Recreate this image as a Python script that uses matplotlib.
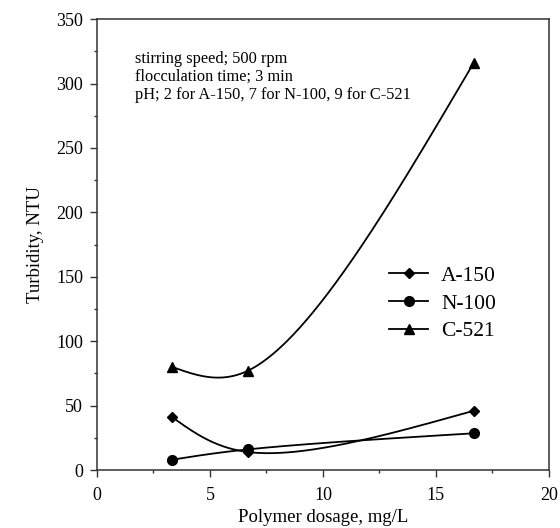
import numpy as np
import matplotlib
matplotlib.use("Agg")
import matplotlib.pyplot as plt
from matplotlib.ticker import MultipleLocator

plt.rcParams["font.family"] = ["Liberation Serif", "DejaVu Serif"]

dosage = [3.33, 6.67, 16.67]
a150 = [41, 14, 46]
n100 = [8, 16, 28.5]
c521 = [80, 77, 316]
labels = ["A-150", "N-100", "C-521"]
note = "stirring speed; 500 rpm\nflocculation time; 3 min\npH; 2 for A-150, 7 for N-100, 9 for C-521"

XLIM = (0, 20)
YLIM = (0, 350)


def natural_coef(t, v):
    k = len(t)
    h = np.diff(t)
    A = np.zeros((k, k))
    b = np.zeros(k)
    A[0, 0] = A[-1, -1] = 1.0
    for i in range(1, k - 1):
        A[i, i - 1] = h[i - 1]
        A[i, i] = 2 * (h[i - 1] + h[i])
        A[i, i + 1] = h[i]
        b[i] = 6 * ((v[i + 1] - v[i]) / h[i] - (v[i] - v[i - 1]) / h[i - 1])
    return np.linalg.solve(A, b)


def natural_eval(t, v, ts):
    M = natural_coef(t, v)
    idx = np.clip(np.searchsorted(t, ts) - 1, 0, len(t) - 2)
    t0, t1 = t[idx], t[idx + 1]
    hh = t1 - t0
    return (M[idx] * (t1 - ts) ** 3 + M[idx + 1] * (ts - t0) ** 3) / (6 * hh) \
        + (v[idx] / hh - M[idx] * hh / 6) * (t1 - ts) \
        + (v[idx + 1] / hh - M[idx + 1] * hh / 6) * (ts - t0)


def smooth(ax, x, y, n=300):
    # parametric (centripetal) spline worked out in screen units, like the old plotting package
    sx = ax.bbox.width / (XLIM[1] - XLIM[0])
    sy = ax.bbox.height / (YLIM[1] - YLIM[0])
    X = np.asarray(x, float) * sx
    Y = np.asarray(y, float) * sy
    d = np.sqrt(np.hypot(np.diff(X), np.diff(Y)))
    t = np.concatenate([[0], np.cumsum(d)])
    ts = np.linspace(0, t[-1], n)
    return natural_eval(t, X, ts) / sx, natural_eval(t, Y, ts) / sy


fig = plt.figure(figsize=(5.6, 5.28), dpi=100)
ax = fig.add_axes([0.1732, 0.1098, 0.807, 0.854])
ax.set_xlim(*XLIM)
ax.set_ylim(*YLIM)

for vals, marker, ms, lab in [(a150, "D", 5.5, labels[0]),
                              (n100, "o", 7, labels[1]),
                              (c521, "^", 7, labels[2])]:
    xs, ys = smooth(ax, dosage, vals)
    ax.plot(xs, ys, color="black", lw=1.3)
    ax.plot(dosage, vals, linestyle="none", marker=marker, ms=ms, color="black")
    ax.plot([], [], color="black", lw=1.3, marker=marker, ms=ms, label=lab)

ax.xaxis.set_major_locator(MultipleLocator(5))
ax.xaxis.set_minor_locator(MultipleLocator(2.5))
ax.yaxis.set_major_locator(MultipleLocator(50))
ax.yaxis.set_minor_locator(MultipleLocator(25))
ax.tick_params(which="major", direction="out", length=5, width=1, labelsize=13, color="#333333")
ax.tick_params(which="minor", direction="out", length=2.3, width=1, color="#333333")
ax.tick_params(axis="x", which="major", pad=7)
ax.tick_params(axis="y", which="major", pad=5)
for sp in ax.spines.values():
    sp.set_color("#333333")
    sp.set_linewidth(1.1)

ax.set_xlabel("Polymer dosage, mg/L", fontsize=13.5, labelpad=4)
ax.set_ylabel("Turbidity, NTU", fontsize=13.5, labelpad=9)

ax.text(0.085, 0.93, note, transform=ax.transAxes, fontsize=11.8, va="top", linespacing=1.18)

ax.legend(loc="center", bbox_to_anchor=(0.765, 0.369), frameon=False, fontsize=15.5,
          handlelength=1.8, handletextpad=0.6, labelspacing=0.36)

fig.savefig("out.png", dpi=100)
